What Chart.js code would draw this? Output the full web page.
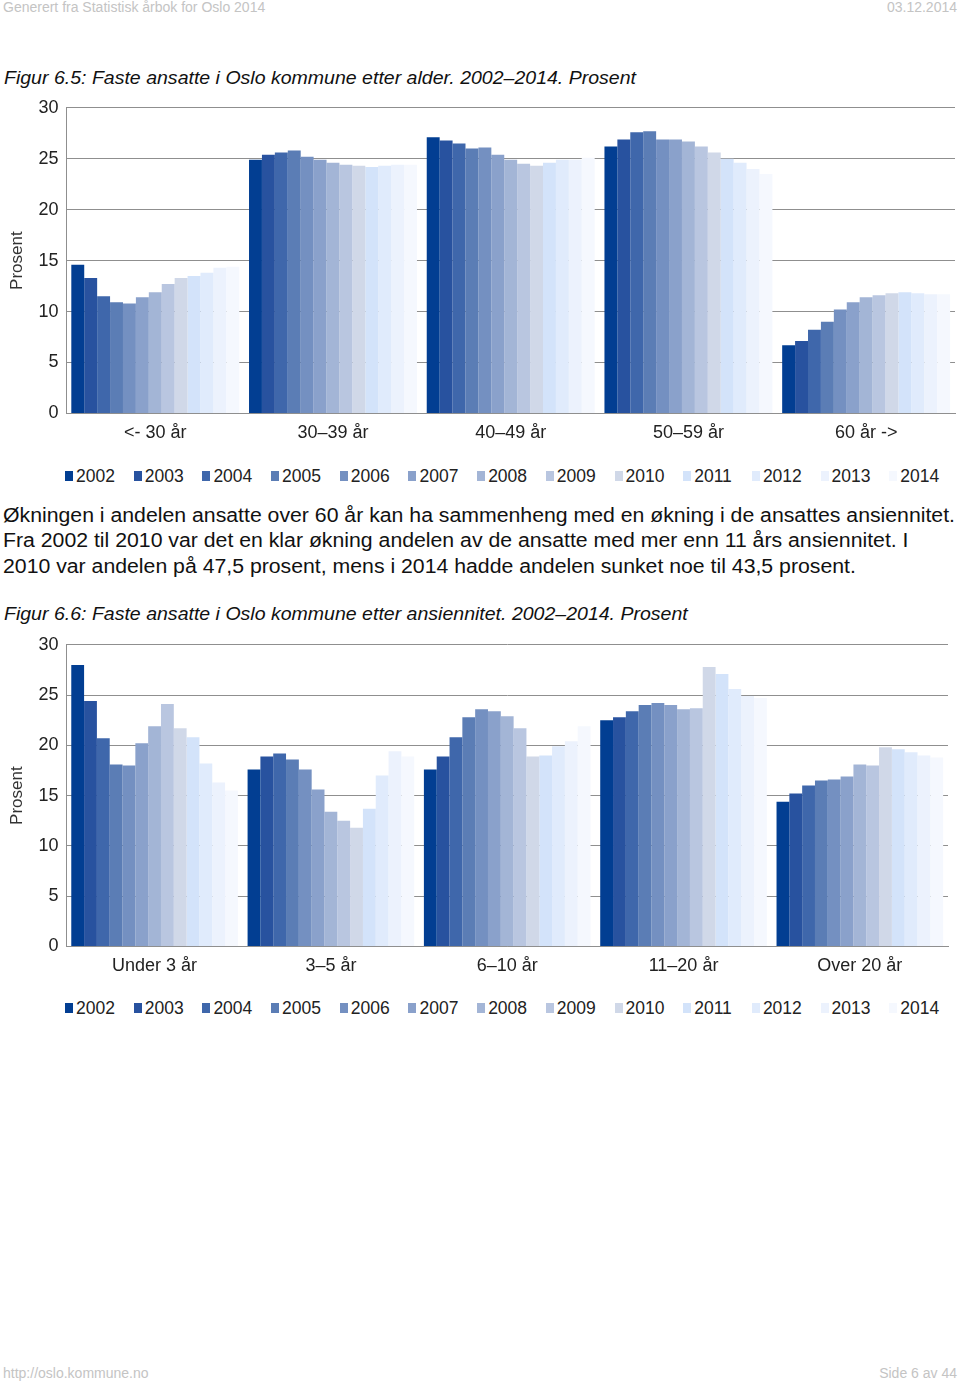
<!DOCTYPE html>
<html>
<head>
<meta charset="utf-8">
<script src="https://cdn.jsdelivr.net/npm/chart.js@4.4.1/dist/chart.umd.min.js"></script>
<style>
body { margin:0; width:960px; height:1382px; overflow:hidden; background:#fff; position:relative; font-family:"Liberation Sans", Arial, sans-serif; color:#111; }
.t { position:absolute; white-space:nowrap; line-height:1; transform-origin:left center; }
.gray { color:#c4c4c4; font-size:14px; }
.fig { font-style:italic; font-size:19px; }
.para { font-size:20px; }
canvas { position:absolute; left:0; }
.legend { position:absolute; left:65px; height:20px; display:flex; }
.legend .item { width:68.7px; font-size:17.5px; line-height:20px; display:flex; align-items:center; color:#222; }
.legend .box { width:8px; height:10px; margin-right:3px; }
</style>
</head>
<body>

<div class="t gray" style="left:3px; top:0px;">Generert fra Statistisk årbok for Oslo 2014</div>
<div class="t gray" style="right:3px; top:0px;">03.12.2014</div>

<div class="t fig" id="fig1" style="left:4px; top:68px;">Figur 6.5: Faste ansatte i Oslo kommune etter alder. 2002–2014. Prosent</div>
<canvas id="chart1" width="960" height="366" style="top:89px;"></canvas>
<div class="legend" id="legend1" style="top:466px;"></div>

<div class="t para" id="p1" style="left:3px; top:505px;">Økningen i andelen ansatte over 60 år kan ha sammenheng med en økning i de ansattes ansiennitet.</div>
<div class="t para" id="p2" style="left:3px; top:530px;">Fra 2002 til 2010 var det en klar økning andelen av de ansatte med mer enn 11 års ansiennitet. I</div>
<div class="t para" id="p3" style="left:3px; top:556px;">2010 var andelen på 47,5 prosent, mens i 2014 hadde andelen sunket noe til 43,5 prosent.</div>

<div class="t fig" id="fig2" style="left:4px; top:604px;">Figur 6.6: Faste ansatte i Oslo kommune etter ansiennitet. 2002–2014. Prosent</div>
<canvas id="chart2" width="960" height="362" style="top:626px;"></canvas>
<div class="legend" id="legend2" style="top:998px;"></div>

<div class="t gray" style="left:3px; top:1366px;">http://oslo.kommune.no</div>
<div class="t gray" style="right:3px; top:1366px;">Side 6 av 44</div>

<script>
// SERIES (one per year)
const years = ['2002', '2003', '2004', '2005', '2006', '2007', '2008', '2009', '2010', '2011', '2012', '2013', '2014'];
const yearColors = ['#023e92', '#28529f', '#3f67ab', '#5b7db5', '#7490c1', '#8aa1cb', '#a3b5d6', '#b9c6e0', '#d0d8e8', '#d3e3fa', '#e0ebfc', '#ecf2fd', '#f5f8fe'];
const yTicks = [0, 5, 10, 15, 20, 25, 30];

// FIGUR 6.5 - alder
const ageLabels = ['<- 30 år', '30–39 år', '40–49 år', '50–59 år', '60 år ->'];
const ageUnder30 = [14.6, 13.3, 11.5, 10.9, 10.8, 11.4, 11.9, 12.7, 13.3, 13.5, 13.8, 14.3, 14.4];
const age30to39 = [24.9, 25.4, 25.6, 25.8, 25.2, 24.9, 24.6, 24.4, 24.3, 24.2, 24.3, 24.4, 24.4];
const age40to49 = [27.1, 26.8, 26.5, 26.0, 26.1, 25.4, 24.9, 24.5, 24.3, 24.6, 24.9, 24.9, 25.1];
const age50to59 = [26.2, 26.9, 27.6, 27.7, 26.9, 26.9, 26.7, 26.2, 25.6, 25.0, 24.6, 24.0, 23.5];
const age60plus = [6.7, 7.1, 8.2, 9.0, 10.2, 10.9, 11.4, 11.6, 11.8, 11.9, 11.8, 11.7, 11.7];

// FIGUR 6.6 - ansiennitet
const senLabels = ['Under 3 år', '3–5 år', '6–10 år', '11–20 år', 'Over 20 år'];
const senUnder3 = [28.0, 24.4, 20.7, 18.1, 18.0, 20.2, 21.9, 24.1, 21.7, 20.8, 18.2, 16.3, 15.5];
const sen3to5 = [17.6, 18.9, 19.2, 18.6, 17.6, 15.6, 13.4, 12.5, 11.8, 13.7, 17.0, 19.4, 18.9];
const sen6to10 = [17.6, 18.9, 20.8, 22.8, 23.6, 23.4, 22.9, 21.7, 18.9, 19.0, 19.9, 20.4, 21.9];
const sen11to20 = [22.5, 22.8, 23.4, 24.0, 24.2, 24.0, 23.6, 23.7, 27.8, 27.1, 25.6, 24.9, 24.7];
const senOver20 = [14.4, 15.2, 16.0, 16.5, 16.6, 16.9, 18.1, 18.0, 19.8, 19.6, 19.3, 19.0, 18.8];

Chart.defaults.font.family = '"Liberation Sans", Arial, sans-serif';

function buildDatasets(groups) {
    return years.map((y, i) => ({
        label: y,
        data: groups.map(g => g[i]),
        backgroundColor: yearColors[i],
        borderWidth: 0,
        barPercentage: 1,
        categoryPercentage: 0.945
    }));
}

function makeChart(id, labels, groups, padRight) {
    return new Chart(document.getElementById(id), {
        type: 'bar',
        data: { labels: labels, datasets: buildDatasets(groups) },
        options: {
            responsive: false,
            animation: false,
            layout: { padding: { top: 6, right: padRight, bottom: 2, left: 2 } },
            plugins: { legend: { display: false }, tooltip: { enabled: false } },
            scales: {
                x: {
                    grid: { display: false, drawTicks: false },
                    border: { color: '#8f8f8f' },
                    ticks: { color: '#222', font: { size: 18 }, padding: 9 }
                },
                y: {
                    min: yTicks[0],
                    max: yTicks[yTicks.length - 1],
                    afterBuildTicks: ax => { ax.ticks = yTicks.map(v => ({ value: v })); },
                    grid: { color: '#8f8f8f', drawTicks: false },
                    border: { color: '#8f8f8f' },
                    ticks: { color: '#222', font: { size: 18 }, padding: 8 },
                    title: { display: true, text: 'Prosent', color: '#333', font: { size: 17 }, padding: { top: 5, bottom: 3 } }
                }
            }
        }
    });
}

function makeLegend(id) {
    let el = document.getElementById(id);
    years.forEach((y, i) => {
        el.innerHTML += `<div class="item"><span class="box" style="background:${yearColors[i]}"></span>${y}</div>`;
    });
}

// fit text widths to the page
function fit(ids, targetW) {
    let first = document.getElementById(ids[0]);
    let s = targetW / first.getBoundingClientRect().width;
    ids.forEach(id => { document.getElementById(id).style.transform = `scaleX(${s})`; });
}

window.onload = function () {
    makeChart('chart1', ageLabels, [ageUnder30, age30to39, age40to49, age50to59, age60plus], 5);
    makeChart('chart2', senLabels, [senUnder3, sen3to5, sen6to10, sen11to20, senOver20], 12);
    makeLegend('legend1');
    makeLegend('legend2');
    fit(['p1', 'p2', 'p3'], 952);
    fit(['fig1', 'fig2'], 632);
};
</script>
</body>
</html>
